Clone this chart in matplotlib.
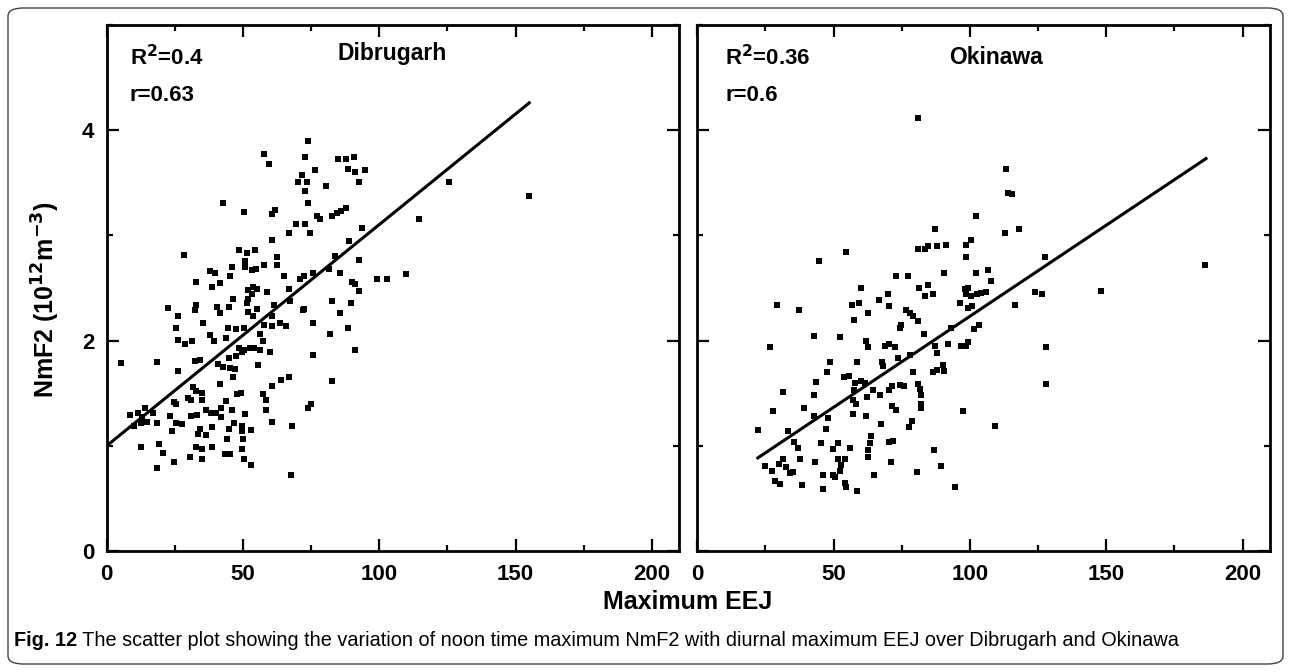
import matplotlib
matplotlib.use("Agg")
import matplotlib.pyplot as plt
import numpy as np
from matplotlib.patches import FancyBboxPatch
from matplotlib.text import Annotation
from matplotlib.ticker import MultipleLocator

plt.rcParams["font.family"] = ["Liberation Sans", "DejaVu Sans"]

LINE_WIDTH = 2.0

# Dibrugarh: maximum EEJ vs noon NmF2 (10^12 m^-3)
dib_eej = [73.9, 57.7, 59.7, 72.8, 84.7, 87.8, 90.7, 88.6, 91.2, 94.7, 76.5, 71.6, 70.3, 73.4,
           92.7, 80.5, 72.8, 125.7, 155.0, 42.7, 73.9, 50.5, 61.7, 60.6, 77.3, 78.1, 82.7, 84.6,
           87.7, 85.8, 114.7, 93.5, 69.6, 72.8, 66.8, 74.7, 60.7, 88.7, 28.3, 48.7, 51.5, 54.4,
           62.6, 83.9, 92.7, 50.7, 50.7, 53.3, 54.9, 57.7, 62.6, 46.1, 37.9, 39.7, 45.3, 64.9,
           75.7, 81.6, 85.5, 99.1, 102.8, 109.7, 70.9, 72.2, 32.8, 38.6, 41.4, 90.1, 91.2, 92.7,
           51.8, 53.8, 55.2, 58.7, 66.9, 53.3, 46.4, 51.8, 22.4, 32.8, 32.5, 40.5, 41.4, 44.7,
           51.5, 51.8, 55.3, 61.5, 67.2, 72.3, 71.9, 82.7, 89.6, 26.3, 85.5, 35.3, 44.5, 47.6,
           53.8, 50.2, 57.7, 60.6, 60.6, 63.4, 65.7, 75.7, 25.5, 88.6, 37.9, 39.4, 43.9, 26.3,
           28.6, 31.4, 56.4, 57.5, 81.9, 48.7, 50.2, 52.5, 54.1, 56.4, 59.9, 47.6, 49.5, 90.9,
           75.7, 5.4, 18.5, 32.4, 34.4, 40.9, 42.5, 44.8, 45.3, 47.1, 55.6, 26.3, 46.4, 63.8,
           67.0, 82.7, 41.7, 60.6, 31.7, 32.9, 34.8, 47.9, 49.1, 57.2, 29.7, 30.9, 24.7, 25.5,
           34.8, 43.6, 58.4, 74.9, 73.9, 13.9, 36.3, 42.0, 46.1, 58.4, 8.5, 11.3, 13.1, 17.0,
           23.3, 30.9, 33.2, 38.3, 40.2, 42.0, 50.7, 10.0, 12.4, 14.7, 18.5, 25.5, 27.5, 38.6,
           46.6, 49.5, 60.7, 68.0, 23.8, 34.4, 44.8, 49.5, 52.8, 33.5, 36.3, 44.0, 49.9, 12.4,
           19.3, 32.9, 34.8, 38.6, 49.5, 20.5, 43.4, 45.3, 30.6, 35.1, 24.6, 50.5, 52.8, 18.5,
           67.7]
dib_nmf2 = [3.90, 3.77, 3.68, 3.75, 3.73, 3.73, 3.75, 3.63, 3.60, 3.62, 3.62, 3.57, 3.51, 3.51,
            3.51, 3.47, 3.42, 3.51, 3.37, 3.31, 3.31, 3.22, 3.24, 3.20, 3.18, 3.16, 3.18, 3.21,
            3.26, 3.23, 3.16, 3.07, 3.11, 3.11, 3.02, 3.02, 2.96, 2.95, 2.81, 2.86, 2.83, 2.86,
            2.79, 2.80, 2.77, 2.76, 2.70, 2.67, 2.68, 2.72, 2.72, 2.70, 2.66, 2.64, 2.61, 2.61,
            2.64, 2.68, 2.64, 2.59, 2.59, 2.63, 2.59, 2.61, 2.56, 2.51, 2.55, 2.56, 2.54, 2.47,
            2.48, 2.51, 2.49, 2.46, 2.49, 2.44, 2.40, 2.40, 2.31, 2.34, 2.29, 2.32, 2.26, 2.32,
            2.36, 2.27, 2.30, 2.34, 2.38, 2.30, 2.29, 2.38, 2.36, 2.23, 2.26, 2.17, 2.12, 2.11,
            2.23, 2.12, 2.15, 2.23, 2.14, 2.17, 2.14, 2.17, 2.12, 2.12, 2.05, 2.00, 2.02, 2.01,
            1.97, 2.00, 2.06, 2.00, 2.06, 1.93, 1.91, 1.93, 1.93, 1.91, 1.89, 1.85, 1.89, 1.91,
            1.86, 1.79, 1.80, 1.81, 1.82, 1.78, 1.75, 1.83, 1.74, 1.73, 1.77, 1.71, 1.65, 1.63,
            1.65, 1.62, 1.59, 1.57, 1.56, 1.52, 1.50, 1.49, 1.50, 1.49, 1.45, 1.44, 1.42, 1.40,
            1.44, 1.43, 1.44, 1.40, 1.36, 1.36, 1.34, 1.36, 1.34, 1.34, 1.29, 1.31, 1.27, 1.31,
            1.28, 1.28, 1.29, 1.31, 1.31, 1.27, 1.30, 1.19, 1.22, 1.23, 1.22, 1.22, 1.21, 1.18,
            1.22, 1.19, 1.23, 1.19, 1.14, 1.16, 1.16, 1.14, 1.15, 1.11, 1.10, 1.06, 1.06, 0.99,
            1.02, 0.99, 0.97, 0.99, 0.97, 0.93, 0.92, 0.92, 0.89, 0.87, 0.85, 0.87, 0.82, 0.79,
            0.72]

# Okinawa
oki_eej = [81.0, 113.4, 114.0, 115.5, 102.3, 87.2, 112.9, 118.1, 81.0, 83.6, 84.5, 88.0, 91.3,
           98.6, 100.5, 98.6, 54.7, 44.5, 127.5, 72.9, 77.2, 90.6, 102.3, 106.8, 107.6, 59.9,
           66.6, 70.1, 70.4, 81.4, 84.5, 83.4, 86.5, 98.2, 99.2, 98.5, 100.3, 102.6, 104.1, 105.8,
           123.9, 126.3, 29.2, 37.4, 56.7, 59.4, 62.5, 57.6, 96.5, 99.2, 100.7, 116.4, 76.4, 78.1,
           79.2, 81.0, 74.2, 74.6, 103.2, 101.5, 93.2, 83.0, 42.7, 52.4, 61.9, 62.5, 26.6, 68.8,
           70.4, 72.6, 87.1, 88.0, 91.8, 96.7, 98.6, 99.2, 48.6, 58.4, 67.8, 68.2, 73.7, 77.9,
           47.6, 53.9, 55.6, 79.2, 86.3, 88.1, 90.3, 90.6, 43.6, 57.8, 60.2, 61.4, 57.4, 70.4,
           71.6, 74.2, 76.0, 81.0, 81.8, 31.3, 42.7, 64.3, 67.0, 62.3, 82.0, 57.1, 58.2, 71.4,
           72.9, 82.0, 82.0, 27.8, 39.2, 57.0, 61.7, 97.4, 42.7, 48.0, 47.1, 67.3, 78.7, 77.7,
           109.1, 22.2, 33.1, 35.4, 36.9, 37.5, 45.4, 51.5, 49.8, 56.1, 63.7, 63.5, 62.5, 62.5,
           70.4, 71.9, 86.8, 51.7, 54.3, 52.3, 52.8, 43.3, 31.6, 24.8, 30.1, 32.4, 33.9, 35.1,
           27.4, 28.6, 30.4, 38.4, 46.2, 49.8, 50.6, 54.1, 54.7, 46.2, 58.4, 64.7, 71.0, 80.7,
           89.5, 94.7, 147.9, 186.2, 127.8, 127.8]
oki_nmf2 = [4.12, 3.63, 3.40, 3.39, 3.18, 3.06, 3.02, 3.06, 2.87, 2.87, 2.90, 2.90, 2.91, 2.91,
            2.96, 2.79, 2.84, 2.76, 2.79, 2.61, 2.61, 2.64, 2.64, 2.67, 2.57, 2.50, 2.39, 2.44,
            2.33, 2.50, 2.53, 2.42, 2.44, 2.49, 2.50, 2.44, 2.42, 2.44, 2.45, 2.46, 2.46, 2.44,
            2.34, 2.29, 2.34, 2.36, 2.26, 2.20, 2.36, 2.31, 2.33, 2.34, 2.29, 2.26, 2.23, 2.19,
            2.12, 2.15, 2.15, 2.11, 2.12, 2.06, 2.04, 2.03, 2.00, 1.94, 1.94, 1.95, 1.97, 1.94,
            1.95, 1.88, 1.97, 1.95, 1.95, 1.99, 1.80, 1.80, 1.80, 1.76, 1.83, 1.86, 1.70, 1.65,
            1.66, 1.70, 1.70, 1.72, 1.77, 1.71, 1.61, 1.60, 1.62, 1.60, 1.53, 1.53, 1.57, 1.58,
            1.57, 1.59, 1.54, 1.51, 1.48, 1.53, 1.48, 1.46, 1.48, 1.44, 1.40, 1.38, 1.34, 1.40,
            1.36, 1.33, 1.36, 1.30, 1.28, 1.33, 1.28, 1.26, 1.16, 1.21, 1.24, 1.18, 1.19, 1.15,
            1.14, 1.04, 0.98, 0.87, 1.03, 1.03, 0.97, 0.98, 1.09, 1.03, 0.96, 0.89, 1.04, 1.05,
            0.96, 0.87, 0.87, 0.76, 0.82, 0.85, 0.87, 0.81, 0.83, 0.80, 0.74, 0.75, 0.76, 0.67,
            0.64, 0.63, 0.72, 0.72, 0.70, 0.65, 0.61, 0.59, 0.57, 0.72, 0.85, 0.75, 0.81, 0.61,
            2.47, 2.72, 1.94, 1.59]

# regression line end points
dib_fit_x = [0, 155]
dib_fit_y = [1.0, 4.26]
oki_fit_x = [22.2, 186.6]
oki_fit_y = [0.885, 3.73]

panels = [
    ("Dibrugarh", dib_eej, dib_nmf2, dib_fit_x, dib_fit_y, "0.4", "0.63", (104.8, 4.73), 8.5),
    ("Okinawa", oki_eej, oki_nmf2, oki_fit_x, oki_fit_y, "0.36", "0.6", (109.4, 4.69), 10.3),
]

fig = plt.figure(figsize=(12.91, 6.72), dpi=100)
fig.patch.set_facecolor("white")

# rounded frame around the whole figure
frame = FancyBboxPatch((8 / 1291, 8 / 672), 1 - 16 / 1291, 1 - 16 / 672,
                       boxstyle="round,pad=0,rounding_size=0.012",
                       transform=fig.transFigure, fill=False,
                       edgecolor="#444444", linewidth=1.0)
fig.patches.append(frame)

ax_left = [106.7 / 1291, 697.3 / 1291]
width = 572.5 / 1291
bottom = 1 - 551 / 672
height = (551 - 25) / 672

for i, (name, xs, ys, fx, fy, r2, r, title_xy, txt_x) in enumerate(panels):
    ax = fig.add_axes([ax_left[i], bottom, width, height])
    ax.plot(xs, ys, "s", color="black", markersize=4.0, markeredgewidth=0)
    ax.plot(fx, fy, color="black", linewidth=2.2)

    ax.set_xlim(0, 210)
    ax.set_ylim(0, 5)
    ax.xaxis.set_major_locator(MultipleLocator(50))
    ax.xaxis.set_minor_locator(MultipleLocator(25))
    ax.yaxis.set_major_locator(MultipleLocator(2))
    ax.yaxis.set_minor_locator(MultipleLocator(1))
    ax.tick_params(which="both", direction="in", top=True, right=True, width=1.6)
    ax.tick_params(which="major", length=8.5, labelsize=16, pad=9)
    ax.tick_params(which="minor", length=4.2)
    for lab in ax.get_xticklabels() + ax.get_yticklabels():
        lab.set_fontweight("bold")
    if i == 1:
        ax.tick_params(labelleft=False)
    for spine in ax.spines.values():
        spine.set_linewidth(LINE_WIDTH)

    ax.text(title_xy[0], title_xy[1], name, ha="center", va="center",
            fontsize=16.5, fontweight="bold")
    ax.text(txt_x, 4.69, "R$^{\\mathbf{2}}$=" + r2, ha="left", va="center",
            fontsize=16, fontweight="bold")
    ax.text(txt_x, 4.33, "r=" + r, ha="left", va="center",
            fontsize=16, fontweight="bold")

fig.text(46 / 1291, 1 - 300 / 672, "NmF2 (10$^{\\mathbf{12}}$m$^{\\mathbf{-3}}$)",
         rotation=90, ha="center", va="center", fontsize=18, fontweight="bold")
fig.text(688 / 1291, 1 - 602 / 672, "Maximum EEJ", ha="center", va="center",
         fontsize=18, fontweight="bold")

cap_family = ["Liberation Sans Narrow", "Liberation Sans"]
cap = fig.text(14 / 1291, 1 - 641 / 672, "Fig. 12", ha="left", va="center",
               fontsize=14.3, fontweight="bold", family=cap_family)
fig.add_artist(Annotation(
    " The scatter plot showing the variation of noon time maximum NmF2 with "
    "diurnal maximum EEJ over Dibrugarh and Okinawa",
    xy=(1, 0), xycoords=cap, va="bottom", ha="left", fontsize=14.3,
    family=cap_family))

fig.savefig("out.png", dpi=100)
